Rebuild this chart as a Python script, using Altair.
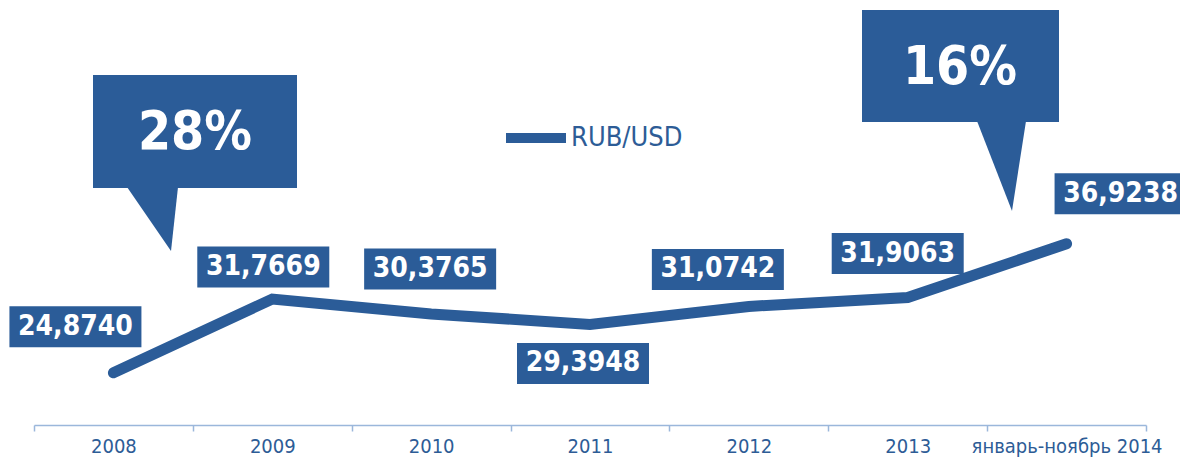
import altair as alt
import pandas as pd

# ---------------- data ----------------
years = ["2008", "2009", "2010", "2011", "2012", "2013", "январь-ноябрь 2014"]
rates = [24.8740, 31.7669, 30.3765, 29.3948, 31.0742, 31.9063, 36.9238]
series_name = "RUB/USD"
# callouts: percentage change between these two periods (index pairs)
callout_pairs = [(0, 1), (5, 6)]

# ---------------- layout / style ----------------
W, H = 1112, 415
Y_MIN, Y_MAX = 20, 58.76
BX = W / len(years)            # px per x unit (band width)
KY = H / (Y_MAX - Y_MIN)       # px per y unit

BLUE = "#2B5C98"
LABEL_C = "#2D5C96"
AXIS_C = "#9BB7DB"
FONT = "DejaVu Sans Condensed, DejaVu Sans"

# data-label box offsets from their point (px) and box size
label_offsets = [(-38, -46), (-9, -32), (-1, -45), (-7, 39), (-31, -37), (-10, -44), (54, -50)]
BOX_W, BOX_H = 132, 41

# callout geometry in plot px: box (x0, x1, y0, y1), pointer base (xl, xr), tip (x, y), text centre
callout_geom = [
    dict(box=(59, 263, 65, 178), base=(93, 144), tip=(137, 241), txt=(161, 123)),
    dict(box=(828, 1025, 0, 112), base=(943, 992), tip=(978, 201), txt=(926, 58)),
]


def ux(px):
    return px / BX - 0.5


def uy(py):
    return Y_MAX - py / KY


XS = alt.Scale(domain=[-0.5, len(years) - 0.5], nice=False, zero=False)
YS = alt.Scale(domain=[Y_MIN, Y_MAX], nice=False, zero=False)

# ---------------- tables ----------------
line_df = pd.DataFrame({"i": list(range(len(years))), "rate": rates, "series": series_name})

lab_rows = []
for i, (v, (dx, dy)) in enumerate(zip(rates, label_offsets)):
    xc = i + dx / BX
    yc = v - dy / KY
    lab_rows.append(dict(
        xc=xc, yc=yc,
        x0=xc - BOX_W / 2 / BX, x1=xc + BOX_W / 2 / BX,
        y0=yc - BOX_H / 2 / KY, y1=yc + BOX_H / 2 / KY,
        txt=f"{v:.4f}".replace(".", ","),
    ))
lab_df = pd.DataFrame(lab_rows)

box_rows, tri_rows, ctxt_rows = [], [], []
for k, ((a, b), g) in enumerate(zip(callout_pairs, callout_geom)):
    pct = round((rates[b] / rates[a] - 1) * 100)
    bx0, bx1, by0, by1 = g["box"]
    box_rows.append(dict(x0=ux(bx0), x1=ux(bx1), y0=uy(by0), y1=uy(by1)))
    tri_rows.append(dict(c=k, y=uy(by1 - 1), xl=ux(g["base"][0]), xr=ux(g["base"][1])))
    tri_rows.append(dict(c=k, y=uy(g["tip"][1]), xl=ux(g["tip"][0]), xr=ux(g["tip"][0])))
    ctxt_rows.append(dict(x=ux(g["txt"][0]), y=uy(g["txt"][1]), txt=f"{pct}%"))
box_df = pd.DataFrame(box_rows)
tri_df = pd.DataFrame(tri_rows)
ctxt_df = pd.DataFrame(ctxt_rows)

# ---------------- layers ----------------
axis_layer = alt.Chart(pd.DataFrame({"year": years})).mark_point(opacity=0).encode(
    x=alt.X("year:N", sort=years,
            scale=alt.Scale(type="band", paddingInner=0, paddingOuter=0),
            axis=alt.Axis(title=None, labelAngle=0, tickBand="extent", grid=False,
                          domainColor=AXIS_C, tickColor=AXIS_C, tickSize=6,
                          domainWidth=1.5, tickWidth=1.5,
                          labelColor=LABEL_C, labelFont=FONT, labelFontSize=20,
                          labelPadding=5, labelLimit=400, labelOverlap=False,
                          labelBound=False))
)

line = alt.Chart(line_df).mark_line(strokeWidth=11, strokeCap="round", strokeJoin="miter").encode(
    x=alt.X("i:Q", scale=XS, axis=None),
    y=alt.Y("rate:Q", scale=YS, axis=None),
    color=alt.Color("series:N", scale=alt.Scale(range=[BLUE]),
                    legend=alt.Legend(orient="none", legendX=467, legendY=93, title=None,
                                      symbolType="stroke", symbolStrokeWidth=10,
                                      symbolSize=3600, labelFont=FONT, labelFontSize=27,
                                      labelColor=LABEL_C, labelOffset=0, padding=0)),
)

lab_box = alt.Chart(lab_df).mark_rect(color=BLUE).encode(
    x=alt.X("x0:Q", scale=XS, axis=None), x2="x1:Q",
    y=alt.Y("y0:Q", scale=YS, axis=None), y2="y1:Q",
)
lab_txt = alt.Chart(lab_df).mark_text(color="white", font=FONT, fontWeight="bold",
                                      fontSize=28, baseline="middle", align="center").encode(
    x=alt.X("xc:Q", scale=XS, axis=None),
    y=alt.Y("yc:Q", scale=YS, axis=None),
    text="txt:N",
)

c_box = alt.Chart(box_df).mark_rect(color=BLUE).encode(
    x=alt.X("x0:Q", scale=XS, axis=None), x2="x1:Q",
    y=alt.Y("y0:Q", scale=YS, axis=None), y2="y1:Q",
)
c_tri = alt.Chart(tri_df).mark_area(color=BLUE, orient="horizontal").encode(
    y=alt.Y("y:Q", scale=YS, axis=None),
    x=alt.X("xl:Q", scale=XS, axis=None), x2="xr:Q",
    detail="c:N",
)
c_txt = alt.Chart(ctxt_df).mark_text(color="white", font=FONT, fontWeight="bold",
                                     fontSize=53, baseline="middle", align="center").encode(
    x=alt.X("x:Q", scale=XS, axis=None),
    y=alt.Y("y:Q", scale=YS, axis=None),
    text="txt:N",
)

chart = alt.layer(axis_layer, line, lab_box, lab_txt, c_tri, c_box, c_txt).resolve_scale(
    x="independent"
).properties(
    width=W, height=H,
    padding={"left": 26, "top": 2, "right": 34, "bottom": 32},
    autosize=alt.AutoSizeParams(type="none"),
    background="white",
).configure_view(stroke=None)

chart.save("out.html", embed_options={"renderer": "svg", "actions": False})
